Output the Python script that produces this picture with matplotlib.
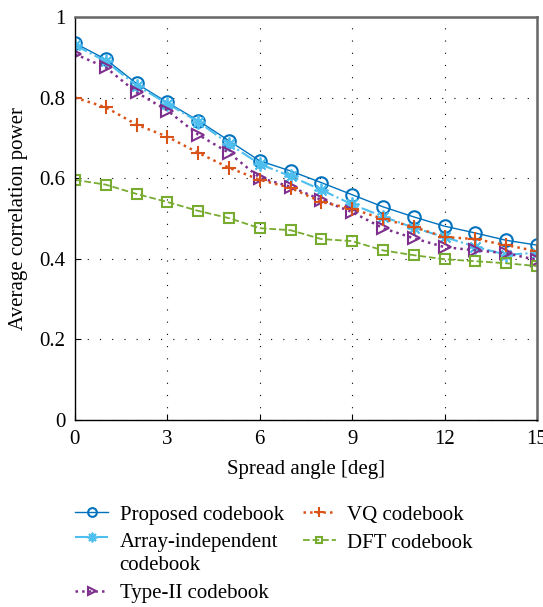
import matplotlib
matplotlib.use("Agg")
import matplotlib.pyplot as plt
import matplotlib.transforms as mtransforms
from matplotlib.legend_handler import HandlerLine2D

angles = list(range(16))
proposed = [0.935, 0.895, 0.835, 0.788, 0.743, 0.693, 0.643, 0.618, 0.589, 0.559, 0.529, 0.504, 0.481, 0.464, 0.446, 0.434]
array_indep = [0.930, 0.890, 0.830, 0.785, 0.740, 0.685, 0.635, 0.605, 0.571, 0.535, 0.505, 0.477, 0.454, 0.430, 0.410, 0.415]
vq = [0.800, 0.776, 0.733, 0.703, 0.663, 0.626, 0.596, 0.576, 0.541, 0.524, 0.499, 0.479, 0.454, 0.449, 0.434, 0.419]
type2 = [0.908, 0.875, 0.813, 0.768, 0.708, 0.663, 0.601, 0.579, 0.546, 0.516, 0.476, 0.451, 0.429, 0.421, 0.414, 0.397]
dft = [0.596, 0.584, 0.561, 0.541, 0.519, 0.501, 0.476, 0.471, 0.449, 0.444, 0.421, 0.409, 0.399, 0.394, 0.389, 0.382]

xticks = [0, 3, 6, 9, 12, 15]
yticks = [0, 0.2, 0.4, 0.6, 0.8, 1]
ytick_labels = ["0", "0.2", "0.4", "0.6", "0.8", "1"]

plt.rcParams['font.family'] = ['Liberation Serif', 'DejaVu Serif']
FS = 15
plt.rcParams['font.size'] = FS


class OffsetHandler(HandlerLine2D):
    def __init__(self, dy=0, **kw):
        super().__init__(**kw)
        self.dy = dy

    def create_artists(self, legend, orig_handle, xdescent, ydescent, width,
                       height, fontsize, trans):
        arts = super().create_artists(legend, orig_handle, xdescent, ydescent,
                                      width, height, fontsize, trans)
        for a in arts:
            a.set_transform(mtransforms.Affine2D().translate(0, self.dy) + trans)
        return arts


fig = plt.figure(figsize=(5.43, 6.07), dpi=100)
ax = fig.add_axes([0.138, 0.308, 0.851, 0.664])

l1, = ax.plot(angles, proposed, '-', color='#0072BD', marker='o', markersize=9,
              markerfacecolor='none', markeredgewidth=1.5, lw=1.0, label='Proposed codebook')
l2, = ax.plot(angles, array_indep, '-.', color='#4DBEEE', marker=(8, 2, 0), markersize=10,
              markeredgewidth=1.3, lw=1.5, label='Array-independent\ncodebook')
l3, = ax.plot(angles, type2, ':', color='#7E2F8E', marker='>', markersize=9,
              markerfacecolor='none', markeredgewidth=1.5, lw=1.8, label='Type-II codebook')
l4, = ax.plot(angles, vq, ':', color='#D95319', marker='+', markersize=10,
              markeredgewidth=1.5, lw=1.8, label='VQ codebook')
l5, = ax.plot(angles, dft, '--', color='#77AC30', marker='s', markersize=7,
              markerfacecolor='none', markeredgewidth=1.5, lw=1.3, label='DFT codebook')

ax.set_xlim(0, 15)
ax.set_ylim(0, 1)
ax.set_xticks(xticks)
ax.set_yticks(yticks)
ax.set_yticklabels(ytick_labels)
ax.grid(True, color='black', linestyle=(0, (1, 10)), linewidth=0.8)
ax.tick_params(direction='in', length=4, width=0.8, labelsize=FS, pad=7)
for s in ['left', 'bottom']:
    ax.spines[s].set_color('black')
    ax.spines[s].set_linewidth(1.0)
for s in ['top', 'right']:
    ax.spines[s].set_color('#666666')
    ax.spines[s].set_linewidth(1.8)
ax.set_xlabel('Spread angle [deg]', fontsize=FS, labelpad=8)
ax.set_ylabel('Average correlation power', fontsize=FS, labelpad=8)

leg = fig.legend(handles=[l1, l2, l3, l4, l5], loc='upper left', bbox_to_anchor=(0.138, 0.168),
                 ncol=2, frameon=False, fontsize=FS, handlelength=1.6, columnspacing=0.9,
                 handletextpad=0.55, labelspacing=0.4, borderaxespad=0, borderpad=0,
                 markerscale=0.7,
                 handler_map={l2: OffsetHandler(dy=12)})
for t in leg.get_texts():
    t.set_linespacing(1.3)

fig.savefig('out.png', dpi=100)
